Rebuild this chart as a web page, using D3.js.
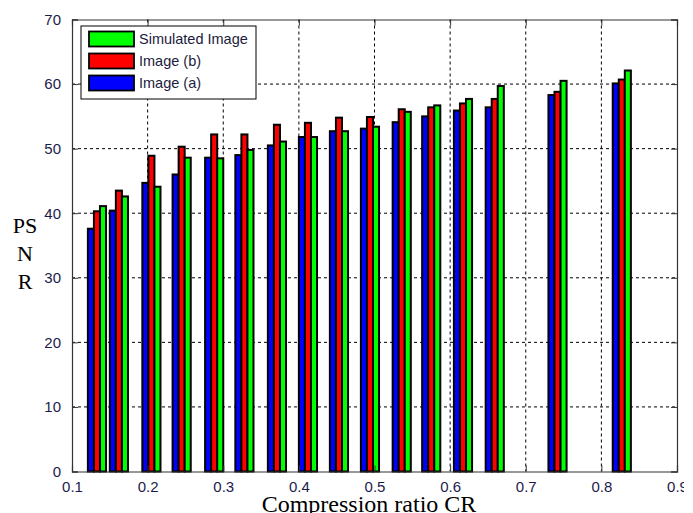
<!DOCTYPE html>
<html>
<head>
<meta charset="utf-8">
<script src="https://cdn.jsdelivr.net/npm/d3@7"></script>
<style>
  body { margin: 0; background: #fff; }
  svg { display: block; }
</style>
</head>
<body>
<svg id="chart"></svg>
<script>
// PSNR vs compression ratio, three images
var crValues = [0.133, 0.162, 0.205, 0.245, 0.288, 0.328, 0.371, 0.412, 0.453, 0.494, 0.536, 0.575, 0.617, 0.659, 0.742, 0.827];
var imageA = [37.6, 40.4, 44.7, 46.0, 48.6, 49.0, 50.5, 51.8, 52.7, 53.1, 54.1, 55.0, 55.9, 56.4, 58.3, 60.1];
var imageB = [40.3, 43.5, 48.9, 50.3, 52.2, 52.2, 53.7, 54.0, 54.8, 54.9, 56.1, 56.4, 57.0, 57.7, 58.8, 60.7];
var simulated = [41.1, 42.6, 44.1, 48.6, 48.5, 49.8, 51.1, 51.8, 52.7, 53.4, 55.7, 56.7, 57.7, 59.7, 60.5, 62.1];
var seriesNames = ["Image (a)", "Image (b)", "Simulated Image"];
var seriesColors = ["#0000ff", "#ff0000", "#00ff00"];
var xTicks = [0.1, 0.2, 0.3, 0.4, 0.5, 0.6, 0.7, 0.8, 0.9];
var yTicks = [0, 10, 20, 30, 40, 50, 60, 70];

var svgWidth = 684;
var svgHeight = 513;
var plotLeft = 72, plotRight = 677, plotTop = 19.5, plotBottom = 471.5;
var barStep = 0.008;

var svg = d3.select("#chart").attr("width", svgWidth).attr("height", svgHeight);

var xScale = d3.scaleLinear().domain([0.1, 0.9]).range([plotLeft, plotRight]);
var yScale = d3.scaleLinear().domain([0, 70]).range([plotBottom, plotTop]);

// grid
svg.selectAll(".vgrid")
  .data(xTicks.slice(1, -1))
  .enter()
  .append("line")
  .attr("x1", function (d) { return xScale(d); })
  .attr("x2", function (d) { return xScale(d); })
  .attr("y1", plotTop)
  .attr("y2", plotBottom)
  .attr("stroke", "#000")
  .attr("stroke-width", 1)
  .attr("stroke-dasharray", "3,3");

svg.selectAll(".hgrid")
  .data(yTicks.slice(1, -1))
  .enter()
  .append("line")
  .attr("x1", plotLeft)
  .attr("x2", plotRight)
  .attr("y1", function (d) { return yScale(d); })
  .attr("y2", function (d) { return yScale(d); })
  .attr("stroke", "#000")
  .attr("stroke-width", 1)
  .attr("stroke-dasharray", "3,3");

// bars
var allSeries = [imageA, imageB, simulated];
allSeries.forEach(function (values, s) {
  svg.selectAll(".bar" + s)
    .data(values)
    .enter()
    .append("rect")
    .attr("x", function (d, i) {
      return xScale(crValues[i] + (s - 1) * barStep - barStep / 2);
    })
    .attr("width", function () {
      return xScale(0.1 + barStep) - xScale(0.1);
    })
    .attr("y", function (d) { return yScale(d); })
    .attr("height", function (d) { return plotBottom - yScale(d); })
    .attr("fill", seriesColors[s])
    .attr("stroke", "#000")
    .attr("stroke-width", 2);
});

// axes (ticks inside, on all four sides)
var xAxisBottom = d3.axisBottom(xScale).tickValues(xTicks).tickSize(-6).tickPadding(10)
  .tickFormat(d3.format(".1f"));
var xAxisTop = d3.axisTop(xScale).tickValues(xTicks).tickSize(-6).tickFormat("");
var yAxisLeft = d3.axisLeft(yScale).tickValues(yTicks).tickSize(-6).tickPadding(11);
var yAxisRight = d3.axisRight(yScale).tickValues(yTicks).tickSize(-6).tickFormat("");

svg.append("g").attr("transform", "translate(0," + plotBottom + ")").call(xAxisBottom);
svg.append("g").attr("transform", "translate(0," + plotTop + ")").call(xAxisTop);
svg.append("g").attr("transform", "translate(" + plotLeft + ",0)").call(yAxisLeft);
svg.append("g").attr("transform", "translate(" + plotRight + ",0)").call(yAxisRight);

svg.selectAll(".domain").attr("stroke", "#333").attr("stroke-width", 1.2);
svg.selectAll(".tick line").attr("stroke", "#333");
svg.selectAll(".tick text")
  .attr("font-family", "Liberation Sans, Arial, sans-serif")
  .attr("font-size", 15)
  .attr("fill", "#1c1c4c");

// axis titles
svg.append("text")
  .attr("x", 369)
  .attr("y", 512)
  .attr("text-anchor", "middle")
  .attr("font-family", "Liberation Serif, Times New Roman, serif")
  .attr("font-size", 24)
  .attr("fill", "#000")
  .text("Compression ratio CR");

var yTitle = ["PS", "N", "R"];
svg.selectAll(".ytitle")
  .data(yTitle)
  .enter()
  .append("text")
  .attr("x", 25)
  .attr("y", function (d, i) { return 233 + i * 28; })
  .attr("text-anchor", "middle")
  .attr("font-family", "Liberation Serif, Times New Roman, serif")
  .attr("font-size", 22)
  .attr("fill", "#000")
  .text(function (d) { return d; });

// legend
var legend = svg.append("g");
legend.append("rect")
  .attr("x", 81)
  .attr("y", 26)
  .attr("width", 175)
  .attr("height", 73)
  .attr("fill", "#fff")
  .attr("stroke", "#000")
  .attr("stroke-width", 1);

var legendOrder = [2, 1, 0];
legendOrder.forEach(function (s, i) {
  var cy = 39 + i * 22;
  legend.append("rect")
    .attr("x", 89)
    .attr("y", cy - 7.5)
    .attr("width", 45)
    .attr("height", 15)
    .attr("fill", seriesColors[s])
    .attr("stroke", "#000")
    .attr("stroke-width", 1.8);
  legend.append("text")
    .attr("x", 139)
    .attr("y", cy + 5)
    .attr("font-family", "Liberation Sans, Arial, sans-serif")
    .attr("font-size", 14.5)
    .attr("fill", "#1c1c3c")
    .text(seriesNames[s]);
});
</script>
</body>
</html>
